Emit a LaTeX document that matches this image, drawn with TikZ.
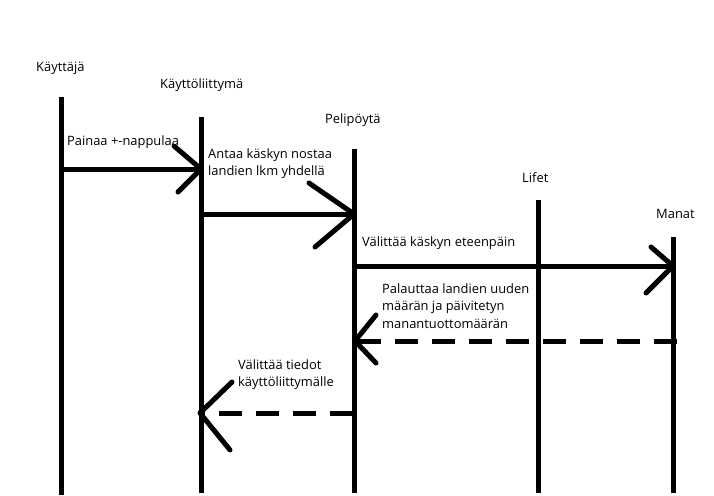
\documentclass[tikz,border=0pt]{standalone}
\usepackage{fontspec}
\setmainfont{Open Sans}
\begin{document}
\begin{tikzpicture}[x=1pt,y=-1pt,
  life/.style={line width=5pt},
  msg/.style={line width=5pt},
  ret/.style={line width=5pt, dash pattern=on 23pt off 14pt},
  head/.style={line width=5pt, line cap=round},
  lbl/.style={anchor=base west, inner sep=0pt, font=\fontsize{12.9}{17.7}\selectfont}]
\useasboundingbox (0,0) rectangle (714,495);
% lifelines
\coordinate (u1) at (61,97);  \coordinate (u2) at (61,495);
\coordinate (k1) at (201,117); \coordinate (k2) at (201,493);
\coordinate (p1) at (354,149); \coordinate (p2) at (354,493);
\coordinate (l1) at (538,200); \coordinate (l2) at (538,493);
\coordinate (m1) at (673,237); \coordinate (m2) at (673,493);
\draw[life] (u1) -- (u2);
\draw[life] (k1) -- (k2);
\draw[life] (p1) -- (p2);
\draw[life] (l1) -- (l2);
\draw[life] (m1) -- (m2);
% titles
\node[lbl] (tu) at (36,71) {Käyttäjä};
\node[lbl] (tk) at (160,88) {Käyttöliittymä};
\node[lbl] (tp) at (325,123) {Pelipöytä};
\node[lbl] (tl) at (522,182) {Lifet};
\node[lbl] (tm) at (656,218) {Manat};
% message 1
\coordinate (a1s) at (61,169); \coordinate (a1t) at (201,169);
\draw[msg] (a1s) -- (a1t);
\draw[head] (a1t) -- (174,146) (a1t) -- (178,192);
\node[lbl] (t1) at (67,145) {Painaa +-nappulaa};
% message 2
\coordinate (a2s) at (201,214); \coordinate (a2t) at (354,214);
\draw[msg] (a2s) -- (a2t);
\draw[head] (a2t) -- (309,183) (a2t) -- (315,247);
\node[lbl] (t2) at (208,158) {\begin{tabular}[t]{@{}l@{}}Antaa käskyn nostaa\\landien lkm yhdellä\end{tabular}};
% message 3
\coordinate (a3s) at (352,266); \coordinate (a3t) at (673,266);
\draw[msg] (a3s) -- (a3t);
\draw[head] (a3t) -- (651,247) (a3t) -- (646,293);
\node[lbl] (t3) at (362,246) {Välittää käskyn eteenpäin};
% message 4 (return)
\coordinate (a4s) at (677,341); \coordinate (a4t) at (355,341);
\draw[ret] (a4s) -- (a4t);
\draw[head] (a4t) -- (376,315) (a4t) -- (376,363);
\node[lbl] (t4) at (382,293) {\begin{tabular}[t]{@{}l@{}}Palauttaa landien uuden\\määrän ja päivitetyn\\manantuottomäärän\end{tabular}};
% message 5 (return)
\coordinate (a5s) at (353,413); \coordinate (a5t) at (200,413);
\draw[ret] (a5s) -- (a5t);
\draw[head] (a5t) -- (232,382) (a5t) -- (230,450);
\node[lbl] (t5) at (238,369) {\begin{tabular}[t]{@{}l@{}}Välittää tiedot\\käyttöliittymälle\end{tabular}};
\end{tikzpicture}
\end{document}
